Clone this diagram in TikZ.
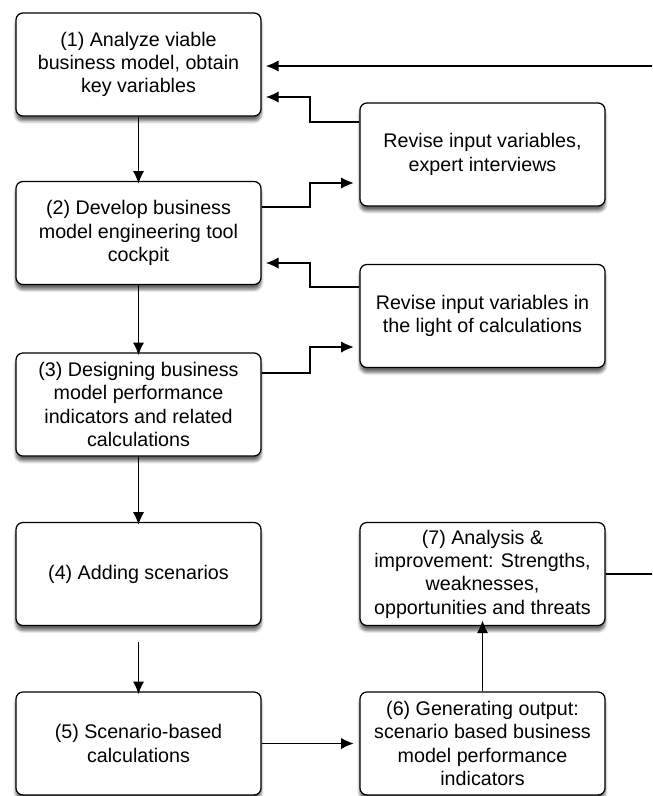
\documentclass[tikz,border=0pt]{standalone}
\usepackage{fontspec}
\setmainfont{Liberation Sans}
\usetikzlibrary{arrows.meta,shadows.blur}
\tikzset{
  stepbox/.style={draw, line width=0.9pt, rounded corners=5pt, fill=white,
    minimum width=6.125cm, minimum height=2.575cm, inner sep=0pt,
    align=center, font=\fontsize{14}{16.6}\selectfont,
    blur shadow={shadow xshift=0pt, shadow yshift=-3.5pt, shadow blur steps=6, shadow opacity=60}},
  link/.style={line width=0.9pt}
}
\begin{document}
\begin{tikzpicture}[x=0.025cm, y=-0.025cm, >={Latex[length=9pt,width=8pt]}]
    \useasboundingbox (0,0) rectangle (652,796);
    \clip (0,0) rectangle (652,796);
    % left column
    \node (b1) at (138.5,64.5) [stepbox] {(1) Analyze viable\\business model, obtain\\key variables};
    \node (b2) at (138.5,233) [stepbox] {(2) Develop business\\model engineering tool\\cockpit};
    \node (b3) at (138.5,404.5) [stepbox] {(3) Designing business\\model performance\\indicators and related\\calculations};
    \node (b4) at (138.5,574) [stepbox] {(4) Adding scenarios};
    \node (b5) at (138.5,743.5) [stepbox] {(5) Scenario-based\\calculations};
    % right column
    \node (r1) at (482.5,154.5) [stepbox] {Revise input variables,\\expert interviews};
    \node (r2) at (482.5,316) [stepbox] {Revise input variables in\\the light of calculations};
    \node (b7) at (482.5,574) [stepbox] {(7) Analysis \&\\improvement: Strengths,\\weaknesses,\\opportunities and threats};
    \node (b6) at (482.5,743.5) [stepbox] {(6) Generating output:\\scenario based business\\model performance\\indicators};
    % main flow
    \draw[link,->] (b1.south) -- ([yshift=-2pt]b2.north);
    \draw[link,->] (b2.south) -- ([yshift=-2pt]b3.north);
    \draw[link,->] (b3.south) -- ([yshift=-2pt]b4.north);
    \draw[link,->] ([yshift=-11pt]b4.south) -- ([yshift=-2pt]b5.north);
    \draw[link,->] (b5.east) -- ([xshift=-4pt]b6.west);
    \draw[link,->] (b6.north) -- ([yshift=4pt]b7.south);
    % revision loops
    \draw[link,->] (b2.east |- 0,207) -- (310,207) |- ([xshift=-4pt]r1.west |- 0,183);
    \draw[link,->] (r1.west |- 0,122) -- (310,122) |- ([xshift=3pt]b1.east |- 0,97);
    \draw[link,->] (b3.east |- 0,373) -- (310,373) |- ([xshift=-4pt]r2.west |- 0,347);
    \draw[link,->] (r2.west |- 0,287) -- (310,287) |- ([xshift=3pt]b2.east |- 0,263);
    % feedback to step 1
    \draw[link,->] (b7.east) -- (700,574) |- ([xshift=3pt]b1.east |- 0,66);
\end{tikzpicture}
\end{document}
